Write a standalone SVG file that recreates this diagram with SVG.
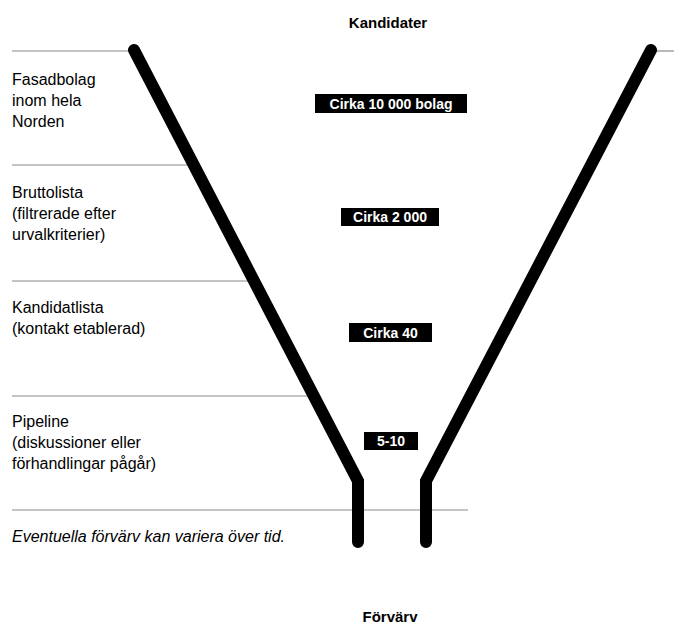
<svg xmlns="http://www.w3.org/2000/svg" width="674" height="625" viewBox="0 0 674 625">
<style>
.rule{stroke:#8a8a8a;stroke-width:1.2;fill:none}
.funnel{stroke:#000;stroke-width:12;fill:none;stroke-linecap:round;stroke-linejoin:miter}
.lbl{font-family:"Liberation Sans",Arial,sans-serif;font-size:16px;fill:#000}
.it{font-style:italic}
.title{font-family:"Liberation Sans",Arial,sans-serif;font-size:15px;font-weight:bold;fill:#000;text-anchor:middle}
.box{fill:#000}
.btxt{font-family:"Liberation Sans",Arial,sans-serif;font-size:14px;font-weight:bold;fill:#fff;text-anchor:middle}
</style>
<rect width="674" height="625" fill="#fff"/>
<g id="connectors">
<line class="rule" x1="12" y1="51" x2="134" y2="51"/>
<line class="rule" x1="651" y1="51" x2="674" y2="51"/>
<line class="rule" x1="12" y1="165" x2="192" y2="165"/>
<line class="rule" x1="12" y1="281" x2="252" y2="281"/>
<line class="rule" x1="12" y1="396" x2="311" y2="396"/>
<line class="rule" x1="12" y1="510" x2="468" y2="510"/>
<polyline class="funnel" points="134,50 358,481 358,542"/>
<polyline class="funnel" points="651,50 426,481 426,542"/>
</g>
<g id="title-top"><text class="title" x="388" y="28">Kandidater</text></g>
<g id="title-bottom"><text class="title" x="390" y="622">Förvärv</text></g>
<g id="stage1">
<text class="lbl" x="12" y="85">Fasadbolag</text>
<text class="lbl" x="12" y="106">inom hela</text>
<text class="lbl" x="12" y="127">Norden</text>
<rect class="box" x="315" y="94" width="152" height="19"/>
<text class="btxt" x="391" y="108.5">Cirka 10 000 bolag</text>
</g>
<g id="stage2">
<text class="lbl" x="12" y="198">Bruttolista</text>
<text class="lbl" x="12" y="219">(filtrerade efter</text>
<text class="lbl" x="12" y="240">urvalkriterier)</text>
<rect class="box" x="341" y="208" width="98" height="18"/>
<text class="btxt" x="390" y="222">Cirka 2 000</text>
</g>
<g id="stage3">
<text class="lbl" x="12" y="313">Kandidatlista</text>
<text class="lbl" x="12" y="334">(kontakt etablerad)</text>
<rect class="box" x="349" y="323" width="83" height="19"/>
<text class="btxt" x="390.5" y="337.5">Cirka 40</text>
</g>
<g id="stage4">
<text class="lbl" x="12" y="427">Pipeline</text>
<text class="lbl" x="12" y="448">(diskussioner eller</text>
<text class="lbl" x="12" y="469">förhandlingar pågår)</text>
<rect class="box" x="364" y="432" width="54" height="18"/>
<text class="btxt" x="391" y="446">5-10</text>
</g>
<g id="note">
<text class="lbl it" x="12" y="542">Eventuella förvärv kan variera över tid.</text>
</g>
</svg>
